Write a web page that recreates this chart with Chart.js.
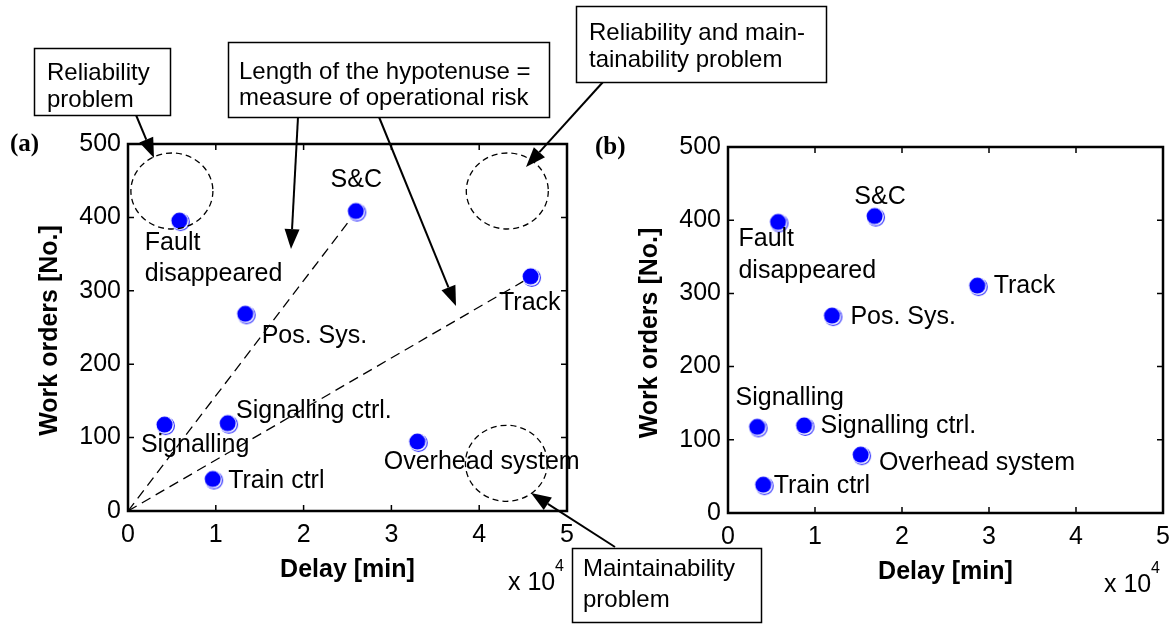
<!DOCTYPE html>
<html>
<head>
<meta charset="utf-8">
<script src="https://cdn.jsdelivr.net/npm/chart.js@4/dist/chart.umd.min.js"></script>
<style>
body { margin: 0; background: #fff; overflow: hidden; }
#wrap { position: relative; width: 1173px; height: 624px; overflow: hidden; }
canvas { position: absolute; top: 0; }
</style>
</head>
<body>
<div id="wrap">
  <canvas id="canvasA" width="1173" height="624" style="left:0px"></canvas>
  <canvas id="canvasB" width="613" height="624" style="left:580px"></canvas>
</div>
<script>
// categories (same order in both panels)
var systems = ['S&C', 'Track', 'Fault disappeared', 'Pos. Sys.', 'Signalling', 'Signalling ctrl.', 'Overhead system', 'Train ctrl'];

// panel (a)
var delayA  = [26000, 45900, 5900, 13400, 4200, 11400, 33000, 9700];
var ordersA = [408, 319, 395, 268, 117, 119, 94, 43];

// panel (b)
var delayB  = [16900, 28700, 5800, 12000, 3400, 8800, 15300, 4100];
var ordersB = [405, 310, 397, 269, 117, 119, 79, 38];

// axes
var xTicks = [0, 10000, 20000, 30000, 40000, 50000];
var yTicks = [0, 100, 200, 300, 400, 500];

// dashed circles in panel (a): delay, work orders
var circleX = [5000, 43200, 43100];
var circleY = [436, 436, 65];

// hypotenuse lines go to these systems in panel (a)
var hypotenuse = ['S&C', 'Track'];

var FONT = '"Liberation Sans", Arial, sans-serif';

// label placement, pixels relative to the marker
var labelPosA = [
  {dx: 0, dy: -31, align: 'center'},
  {dx: -32, dy: 26},
  {dx: -35, dy: 22, wrap: 31},
  {dx: 16, dy: 22},
  {dx: -24, dy: 20},
  {dx: 8, dy: -13},
  {dx: -34, dy: 20},
  {dx: 15, dy: 2}
];
var labelPosB = [
  {dx: 5, dy: -19, align: 'center'},
  {dx: 16, dy: 0},
  {dx: -40, dy: 17, wrap: 32},
  {dx: 18, dy: 1},
  {dx: -22, dy: -29},
  {dx: 16, dy: 0},
  {dx: 18, dy: 8},
  {dx: 10, dy: 1}
];

function toPoints(xs, ys) {
  var pts = [];
  for (var i = 0; i < xs.length; i++) pts.push({x: xs[i], y: ys[i]});
  return pts;
}

// matlab-ish marker: blue disk with an offset blue rim
function makeMarker() {
  var c = document.createElement('canvas');
  c.width = 24; c.height = 24;
  var g = c.getContext('2d');
  g.strokeStyle = '#2a2aff';
  g.lineWidth = 1.2;
  g.beginPath(); g.arc(12.8, 12.8, 8.6, 0, Math.PI * 2); g.stroke();
  g.fillStyle = '#fff';
  g.beginPath(); g.arc(11.6, 11.6, 8.9, 0, Math.PI * 2); g.fill();
  g.fillStyle = '#0000ff';
  g.beginPath(); g.arc(11.6, 11.6, 8, 0, Math.PI * 2); g.fill();
  return c;
}
var marker = makeMarker();

// frame, inward ticks, titles, point labels
function panelPlugin(tag, labelPos) {
  return {
    id: 'panel' + tag,
    afterDatasetsDraw: function(chart) {
      var ctx = chart.ctx;
      var meta = chart.getDatasetMeta(0);
      ctx.save();
      ctx.fillStyle = '#000';
      ctx.font = '25px ' + FONT;
      ctx.textBaseline = 'middle';
      for (var i = 0; i < systems.length; i++) {
        var el = meta.data[i];
        var p = labelPos[i];
        ctx.textAlign = p.align || 'left';
        if (p.wrap) {
          var parts = systems[i].split(' ');
          for (var k = 0; k < parts.length; k++) {
            ctx.fillText(parts[k], el.x + p.dx, el.y + p.dy + k * p.wrap);
          }
        } else {
          ctx.fillText(systems[i], el.x + p.dx, el.y + p.dy);
        }
      }
      ctx.restore();
    },
    afterDraw: function(chart) {
      var ctx = chart.ctx;
      var a = chart.chartArea;
      var xs = chart.scales.x, ys = chart.scales.y;
      ctx.save();
      ctx.strokeStyle = '#000';
      ctx.lineWidth = 1.5;
      ctx.beginPath();
      xTicks.forEach(function(t) {
        var px = xs.getPixelForValue(t);
        ctx.moveTo(px, a.bottom); ctx.lineTo(px, a.bottom - 6);
        ctx.moveTo(px, a.top); ctx.lineTo(px, a.top + 6);
      });
      yTicks.forEach(function(t) {
        var py = ys.getPixelForValue(t);
        ctx.moveTo(a.left, py); ctx.lineTo(a.left + 6, py);
        ctx.moveTo(a.right, py); ctx.lineTo(a.right - 6, py);
      });
      ctx.stroke();
      ctx.lineWidth = 2.5;
      ctx.strokeRect(a.left, a.top, a.right - a.left, a.bottom - a.top);

      ctx.fillStyle = '#000';
      ctx.textBaseline = 'middle';
      ctx.textAlign = 'center';
      ctx.font = 'bold 25px ' + FONT;
      ctx.fillText('Delay [min]', (a.left + a.right) / 2, a.bottom + 59);
      ctx.save();
      ctx.translate(a.left - 78, (a.top + a.bottom) / 2 + 3);
      ctx.rotate(-Math.PI / 2);
      ctx.fillText('Work orders [No.]', 0, 0);
      ctx.restore();

      ctx.textAlign = 'left';
      ctx.font = '25px ' + FONT;
      ctx.fillText('x 10', a.right - 59, a.bottom + 72);
      ctx.font = '16px ' + FONT;
      ctx.fillText('4', a.right - 12, a.bottom + 56);

      ctx.font = 'bold 25px "Liberation Serif", "Times New Roman", serif';
      ctx.fillText('(' + tag + ')', tag === 'a' ? 10 : 15, a.top + 1);
      ctx.restore();
    }
  };
}

function arrow(ctx, x1, y1, x2, y2) {
  var ang = Math.atan2(y2 - y1, x2 - x1);
  var len = 20, half = 7.5;
  var bx = x2 - len * Math.cos(ang), by = y2 - len * Math.sin(ang);
  ctx.beginPath();
  ctx.moveTo(x1, y1); ctx.lineTo(bx, by);
  ctx.stroke();
  ctx.beginPath();
  ctx.moveTo(x2, y2);
  ctx.lineTo(bx + half * Math.sin(ang), by - half * Math.cos(ang));
  ctx.lineTo(bx - half * Math.sin(ang), by + half * Math.cos(ang));
  ctx.closePath();
  ctx.fill();
}

function textBox(ctx, x, y, w, h, lines, tx, ty, lh) {
  ctx.fillStyle = '#fff';
  ctx.fillRect(x, y, w, h);
  ctx.strokeRect(x, y, w, h);
  ctx.fillStyle = '#000';
  for (var i = 0; i < lines.length; i++) ctx.fillText(lines[i], tx, ty + i * lh);
}

// callouts of panel (a)
var calloutPlugin = {
  id: 'callouts',
  afterDraw: function(chart) {
    var ctx = chart.ctx;
    var xs = chart.scales.x, ys = chart.scales.y;
    ctx.save();
    ctx.strokeStyle = '#000';
    ctx.lineWidth = 1.3;
    ctx.setLineDash([6, 4]);
    for (var i = 0; i < circleX.length; i++) {
      ctx.beginPath();
      ctx.ellipse(xs.getPixelForValue(circleX[i]), ys.getPixelForValue(circleY[i]), 41, 38, 0, 0, Math.PI * 2);
      ctx.stroke();
    }
    ctx.setLineDash([]);
    ctx.lineWidth = 2;
    ctx.fillStyle = '#000';
    arrow(ctx, 136, 115, 154, 158);
    arrow(ctx, 298, 117, 291, 249);
    arrow(ctx, 379, 117, 456, 306);
    arrow(ctx, 603, 82, 526, 167);
    arrow(ctx, 615, 547, 531, 493);

    ctx.lineWidth = 1.5;
    ctx.font = '24px ' + FONT;
    ctx.textAlign = 'left';
    ctx.textBaseline = 'middle';
    textBox(ctx, 34.5, 48.5, 136, 67, ['Reliability', 'problem'], 47, 73, 27);
    textBox(ctx, 228.5, 42.5, 321, 75, ['Length of the hypotenuse =', 'measure of operational risk'], 239, 72, 26);
    textBox(ctx, 576.5, 6.5, 250, 76, ['Reliability and main-', 'tainability problem'], 589, 33, 27);
    textBox(ctx, 572.5, 548.5, 189, 74, ['Maintainability', 'problem'], 583, 569, 31);
    ctx.restore();
  }
};

function makeOptions(pad, yWidth) {
  var tickFont = {family: FONT, size: 25};
  return {
    responsive: false,
    animation: false,
    devicePixelRatio: 1,
    layout: {padding: pad},
    plugins: {legend: {display: false}, tooltip: {enabled: false}},
    scales: {
      x: {
        type: 'linear', min: 0, max: 50000,
        grid: {display: false, drawTicks: false},
        border: {display: false},
        ticks: {stepSize: 10000, padding: 9, color: '#000', font: tickFont, maxRotation: 0,
                callback: function(v) { return v / 10000; }},
        afterFit: function(s) { s.height = 40; }
      },
      y: {
        type: 'linear', min: 0, max: 500,
        grid: {display: false, drawTicks: false},
        border: {display: false},
        ticks: {stepSize: 100, padding: 7, color: '#000', font: tickFont},
        afterFit: function(s) { s.width = yWidth; }
      }
    }
  };
}

function pointSet(xs, ys) {
  return {
    data: toPoints(xs, ys),
    pointStyle: marker,
    pointRadius: 9,
    order: 1
  };
}

var dsA = [pointSet(delayA, ordersA)];
hypotenuse.forEach(function(name) {
  var i = systems.indexOf(name);
  dsA.push({
    data: [{x: 0, y: 0}, {x: delayA[i], y: ordersA[i]}],
    showLine: true,
    borderColor: '#000',
    borderWidth: 1.3,
    borderDash: [10, 6],
    pointRadius: 0,
    order: 2
  });
});

new Chart(document.getElementById('canvasA'), {
  type: 'scatter',
  data: {datasets: dsA},
  options: makeOptions({left: 0, top: 144, right: 606, bottom: 73}, 128),
  plugins: [panelPlugin('a', labelPosA), calloutPlugin]
});

new Chart(document.getElementById('canvasB'), {
  type: 'scatter',
  data: {datasets: [pointSet(delayB, ordersB)]},
  options: makeOptions({left: 0, top: 147, right: 30, bottom: 71}, 148),
  plugins: [panelPlugin('b', labelPosB)]
});
</script>
</body>
</html>
